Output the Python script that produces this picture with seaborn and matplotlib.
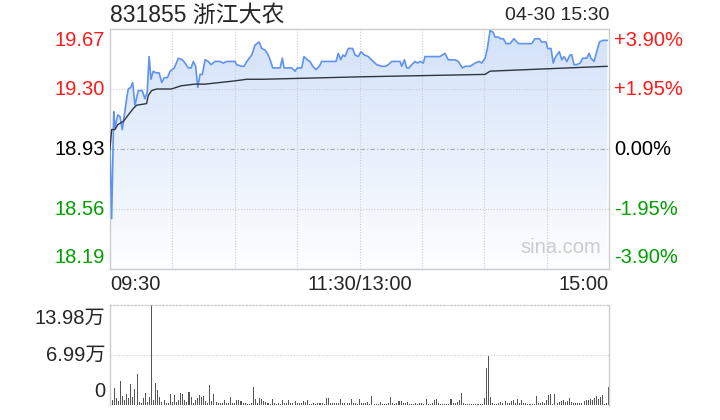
"""
Intraday chart for 831855 浙江大农 (04-30): price / average line plus minute volume.
"""

import numpy as np
import pandas as pd
import matplotlib.pyplot as plt
import matplotlib.transforms as mtransforms
import seaborn as sns


# --- price line (minute since 09:30, afternoon continues at 120 = 13:00) ---
price_minutes = [
    0, 0.8, 1.8, 2.4, 3.7, 4.8, 5.9, 6.9, 8.0, 8.8, 10.0, 10.9, 12.0, 13.6, 15.5,
    16.8, 17.9, 18.8, 19.7, 20.8, 22.0, 23.6, 24.9, 26.1, 27.6, 28.9, 30.9, 32.9,
    34.8, 36.1, 37.7, 39.0, 40.1, 41.2, 42.2, 43.3, 44.4, 45.7, 47.3, 48.6, 50.5,
    52.9, 54.5, 56.1, 58.2, 60.1, 60.9, 63.3, 64.5, 65.8, 68.2, 69.7, 71.7, 73.0,
    74.6, 76.1, 77.0, 78.3, 81.8, 82.9, 83.7, 87.4, 89.0, 90.1, 92.2, 93.3, 94.9,
    96.2, 97.5, 99.1, 100.7, 101.8, 108.7, 109.8, 111.0, 112.0, 113.0, 114.6,
    116.7, 117.8, 119.4, 120.7, 122.3, 124.2, 126.6, 128.3, 130.7, 132.3, 133.9,
    135.5, 139.5, 140.3, 141.6, 142.7, 143.8, 145.1, 146.7, 148.0, 149.1, 150.7,
    151.5, 156.3, 158.7, 161.1, 162.7, 165.9, 167.5, 169.5, 170.8, 173.2, 175.6,
    177.5, 178.8, 180.4, 181.5, 182.8, 184.3, 185.2, 186.8, 187.9, 189.2, 190.5,
    192.4, 194.3, 196.4, 202.8, 204.4, 206.5, 207.6, 209.7, 210.5, 212.1, 213.2,
    214.0, 214.9, 216.1, 217.3, 218.4, 219.7, 221.3, 222.1, 223.2, 224.5, 226.1,
    227.4, 229.3, 230.4, 231.3, 232.8, 234.1, 235.4, 237.0, 239.2,
]
price_values = [
    18.93, 18.50, 19.16, 19.06, 19.14, 19.13, 19.05, 19.14, 19.24, 19.30, 19.31,
    19.34, 19.20, 19.29, 19.29, 19.24, 19.28, 19.50, 19.36, 19.41, 19.40, 19.40,
    19.34, 19.37, 19.37, 19.41, 19.43, 19.49, 19.48, 19.46, 19.43, 19.43, 19.47,
    19.44, 19.31, 19.39, 19.39, 19.48, 19.47, 19.45, 19.47, 19.47, 19.46, 19.47,
    19.47, 19.47, 19.45, 19.44, 19.44, 19.47, 19.51, 19.57, 19.59, 19.55, 19.54,
    19.51, 19.48, 19.43, 19.43, 19.49, 19.43, 19.43, 19.41, 19.43, 19.43, 19.50,
    19.48, 19.47, 19.44, 19.42, 19.44, 19.47, 19.47, 19.52, 19.48, 19.51, 19.50,
    19.55, 19.55, 19.51, 19.50, 19.53, 19.51, 19.50, 19.47, 19.45, 19.44, 19.44,
    19.45, 19.47, 19.47, 19.44, 19.48, 19.43, 19.43, 19.45, 19.47, 19.46, 19.47,
    19.46, 19.50, 19.50, 19.50, 19.52, 19.48, 19.48, 19.47, 19.43, 19.44, 19.44,
    19.46, 19.47, 19.46, 19.49, 19.55, 19.66, 19.65, 19.62, 19.62, 19.61, 19.61,
    19.58, 19.58, 19.61, 19.58, 19.58, 19.61, 19.61, 19.59, 19.59, 19.55, 19.55,
    19.46, 19.49, 19.51, 19.53, 19.48, 19.50, 19.47, 19.51, 19.51, 19.45, 19.45,
    19.46, 19.49, 19.49, 19.52, 19.49, 19.47, 19.53, 19.59, 19.60, 19.60,
]

# --- average price line ---
avg_minutes = [0, 0.8, 2.4, 3.7, 6.4, 8.8, 11.2, 12.8, 17.6, 18.4, 20.0, 22.4,
               29.5, 34.3, 40.9, 45.7, 60.0, 65.8, 73.6, 120.0, 180.4, 182.8, 239.2]
avg_values = [18.93, 19.05, 19.05, 19.08, 19.10, 19.14, 19.18, 19.20, 19.21, 19.26,
              19.29, 19.30, 19.30, 19.32, 19.33, 19.33, 19.35, 19.36, 19.36, 19.375,
              19.39, 19.41, 19.44]

# --- minute volume (万股) ---
vol_am = [
    0.70, 2.42, 1.03, 0.56, 3.40, 1.26, 0.70, 1.54, 0.93, 2.94, 1.17, 2.24, 4.33,
    0.47, 0.33, 0.93, 1.68, 0.47, 1.17, 13.98, 0.70, 3.08, 2.10, 1.17, 0.47, 0.70,
    0.23, 0.23, 1.49, 0.47, 1.35, 0.47, 0.70, 1.63, 1.49, 0.70, 0.47, 1.82, 1.17,
    0.33, 0.70, 0.93, 1.40, 1.17, 1.26, 0.56, 0.33, 2.80, 0.56, 1.49, 0.47, 0.23,
    0.33, 0.33, 0.70, 0.23, 0.23, 1.07, 0.33, 0.33, 0.70, 0.70, 0.56, 0.23, 0.23,
    0.14, 0.14, 0.23, 2.56, 0.89, 0.23, 0.93, 0.79, 0.56, 0.47, 0.23, 0.14, 0.84,
    0.23, 0.14, 0.23, 0.14, 0.70, 0.23, 0.23, 0.70, 0.23, 0.23, 0.56, 0.23, 0.33,
    0.23, 0.56, 0.47, 0.70, 0.14, 0.14, 0.23, 0.14, 0.33, 0.23, 0.23, 0.14, 0.93,
    0.93, 0.23, 0.23, 0.33, 0.33, 0.33, 0.84, 0.23, 0.33, 0.23, 0.23, 0.84, 0.23,
    0.23, 0.14,
]
vol_pm = [
    0.84, 0.23, 0.33, 0.23, 0.47, 0.14, 1.26, 0.14, 0.14, 0.09, 0.37, 0.14, 0.14,
    0.14, 0.23, 1.07, 0.23, 0.14, 0.23, 0.56, 0.56, 0.23, 0.33, 0.42, 0.14, 0.14,
    0.14, 0.23, 0.14, 0.23, 0.33, 0.14, 0.84, 0.14, 0.14, 0.33, 0.70, 0.84, 0.23,
    0.14, 0.14, 0.14, 0.14, 0.14, 0.84, 0.23, 0.23, 0.47, 0.70, 1.63, 0.23, 0.14,
    0.14, 0.14, 0.14, 0.14, 0.14, 0.14, 0.14, 0.14, 0.93, 5.13, 6.85, 1.07, 0.23,
    0.14, 0.14, 0.33, 0.42, 0.33, 0.56, 0.23, 0.33, 0.56, 0.70, 0.33, 0.79, 0.23,
    0.70, 0.33, 0.23, 0.14, 0.14, 0.14, 0.14, 1.26, 0.23, 0.33, 0.42, 0.23, 0.70,
    1.35, 1.49, 0.14, 1.49, 0.23, 0.42, 0.56, 0.70, 0.47, 0.56, 0.93, 0.42, 0.23,
    0.33, 0.33, 0.23, 0.23, 0.56, 0.70, 0.70, 0.89, 0.70, 0.93, 1.26, 0.89, 1.07,
    1.35, 0.14, 0.23, 2.56,
]

price_ticks = [19.67, 19.30, 18.93, 18.56, 18.19]
price_labels = ["19.67", "19.30", "18.93", "18.56", "18.19"]
pct_labels = ["+3.90%", "+1.95%", "0.00%", "-1.95%", "-3.90%"]
time_ticks = [0, 120, 240]
time_labels = ["09:30", "11:30/13:00", "15:00"]
vol_ticks = [13.98, 6.99, 0]
vol_labels = ["13.98万", "6.99万", "0"]

RED = "#ff1a1a"
GREEN = "#00a000"
label_colors = [RED, RED, "black", GREEN, GREEN]

sns.set_style("white")
plt.rcParams["font.family"] = ["Liberation Sans", "Noto Sans CJK SC"]

fig = plt.figure(figsize=(7.2, 4.2), dpi=100)
W, H = 720, 420
ax = fig.add_axes([110 / W, 1 - 269 / H, 499 / W, 240 / H])
axv = fig.add_axes([110 / W, 1 - 405 / H, 499 / W, 100 / H])

lo, hi = 18.19, 19.67

# gradient fill under the price line
poly = ax.fill_between(price_minutes, price_values, lo, color="none", lw=0)
grad = np.linspace(0, 1, 256).reshape(-1, 1)
cmap = sns.blend_palette(["#fdfeff", "#d3e2f9"], as_cmap=True)
img = ax.imshow(grad, cmap=cmap, aspect="auto", origin="lower",
                extent=[0, 240, lo, hi], zorder=1)
img.set_clip_path(poly.get_paths()[0], transform=ax.transData)

df_price = pd.DataFrame({"minute": price_minutes, "price": price_values})
df_avg = pd.DataFrame({"minute": avg_minutes, "price": avg_values})
sns.lineplot(data=df_price, x="minute", y="price", ax=ax, color="#5f93ee", lw=1.2,
             estimator=None, sort=False, zorder=3)
sns.lineplot(data=df_avg, x="minute", y="price", ax=ax, color="#2f3540", lw=1.0,
             estimator=None, sort=False, zorder=3)

# grid
for v in [19.30, 18.56]:
    ax.axhline(v, color="#cccccc", lw=0.8, ls=(0, (1, 1.5)), zorder=2)
ax.axhline(18.93, color="#aaaaaa", lw=0.8, ls=(0, (4, 2, 1, 2)), zorder=2)
for m in [30, 60, 90, 120, 150, 180, 210]:
    ax.axvline(m, color="#cccccc", lw=0.8, ls=(0, (1, 1.5)), zorder=2)

ax.set_xlim(0, 240)
ax.set_ylim(lo, hi)
ax.set_xticks([])
ax.set_yticks([])
ax.set_xlabel("")
ax.set_ylabel("")
for s in ax.spines.values():
    s.set_color("#cccccc")
    s.set_linewidth(1.0)

ytr = mtransforms.blended_transform_factory(ax.transAxes, ax.transData)
fs = 14.5
for i, (v, lab, pct, c) in enumerate(zip(price_ticks, price_labels, pct_labels, label_colors)):
    va = "top" if i == 0 else ("bottom" if i == len(price_ticks) - 1 else "center")
    dy = -0.01 if i == 0 else (0.01 if i == len(price_ticks) - 1 else 0)
    ax.text(-0.01, v + dy, lab, transform=ytr, ha="right", va=va, color=c, fontsize=fs)
    ax.text(1.01, v + dy, pct, transform=ytr, ha="left", va=va, color=c, fontsize=fs)

xtr = mtransforms.blended_transform_factory(ax.transData, ax.transAxes)
for m, lab, ha in zip(time_ticks, time_labels, ["left", "center", "right"]):
    ax.text(m, -0.025, lab, transform=xtr, ha=ha, va="top", fontsize=fs)

ax.text(0.985, 0.05, "sina.com", transform=ax.transAxes, ha="right", va="bottom",
        color="#cccccc", fontsize=14.5)

# title
fig.text(110 / W, 1 - 15 / H, "831855 浙江大农", ha="left", va="center", fontsize=16.5)
fig.text(609 / W, 1 - 15 / H, "04-30 15:30", ha="right", va="center", fontsize=14)

# --- volume panel ---
vol = vol_am + vol_pm
vol_minutes = list(range(1, 1 + len(vol_am))) + list(range(120, 120 + len(vol_pm)))
df_vol = pd.DataFrame({"minute": vol_minutes, "vol": vol})
sns.histplot(data=df_vol, x="minute", weights="vol", ax=axv, discrete=True,
             shrink=0.5, color="#555555", alpha=1, edgecolor="none", linewidth=0)

axv.axhline(6.99, color="#cccccc", lw=0.8, ls=(0, (1, 1.5)))
axv.set_xlim(0, 240)
axv.set_ylim(0, 13.98)
axv.set_xticks([])
axv.set_yticks([])
axv.set_xlabel("")
axv.set_ylabel("")
for name, s in axv.spines.items():
    s.set_color("#cccccc")
    s.set_linewidth(1.0)
axv.spines["top"].set_linestyle((0, (1, 1.5)))
axv.spines["bottom"].set_visible(False)

vtr = mtransforms.blended_transform_factory(axv.transAxes, axv.transData)
for i, (v, lab) in enumerate(zip(vol_ticks, vol_labels)):
    va = ["top", "center", "bottom"][i]
    dy = [-0.6, 0, 0.6][i]
    axv.text(-0.01, v + dy, lab, transform=vtr, ha="right", va=va, fontsize=fs)

fig.savefig("out.png", dpi=100)
